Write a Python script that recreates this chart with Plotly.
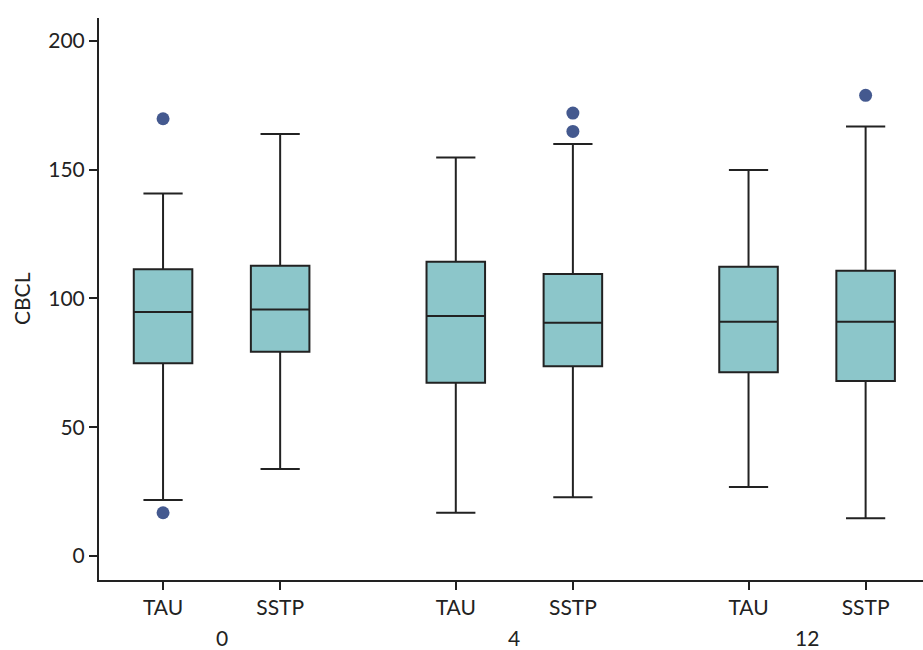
import plotly.graph_objects as go

# Assessment weeks and treatment arms
weeks = ["0", "4", "12"]
arms = ["TAU", "SSTP"]

# Box summary statistics per week/arm, in order: 0-TAU, 0-SSTP, 4-TAU, 4-SSTP, 12-TAU, 12-SSTP
lower_fence = [21.7, 33.8, 16.8, 22.8, 26.8, 14.7]
q1 = [74.8, 79.3, 67.2, 73.7, 71.3, 67.9]
median = [94.7, 95.7, 93.2, 90.5, 90.9, 90.9]
q3 = [111.3, 112.7, 114.2, 109.5, 112.3, 110.7]
upper_fence = [140.7, 163.8, 154.7, 159.9, 149.8, 166.7]

# Outlying observations per box
outliers = [[169.7, 16.8], [], [], [171.9, 164.8], [], [178.8]]

y_ticks = [0, 50, 100, 150, 200]

FONT = "Lato, 'Open Sans', sans-serif"
FS = 21
INK = "#222222"
FILL = "#8cc6ca"
DOT = "#44598f"

# Numeric slot for each box: arms sit 1 apart, weeks are separated by an extra half slot
positions = []
labels = []
group_centers = []
for gi, wk in enumerate(weeks):
    base = gi * (len(arms) + 0.5)
    slots = [base + ai for ai in range(len(arms))]
    positions.extend(slots)
    labels.extend(arms)
    group_centers.append(sum(slots) / len(slots))

fig = go.Figure()

for i, pos in enumerate(positions):
    fig.add_trace(go.Box(
        x=[pos],
        q1=[q1[i]], median=[median[i]], q3=[q3[i]],
        lowerfence=[lower_fence[i]], upperfence=[upper_fence[i]],
        width=0.5, whiskerwidth=0.67,
        fillcolor=FILL,
        line=dict(color=INK, width=2),
        boxpoints=False,
        showlegend=False,
        hoverinfo="skip",
    ))
    if outliers[i]:
        fig.add_trace(go.Scatter(
            x=[pos] * len(outliers[i]), y=outliers[i],
            mode="markers",
            marker=dict(color=DOT, size=13),
            showlegend=False,
            hoverinfo="skip",
        ))

# Week labels underneath the arm labels
for wk, cx in zip(weeks, group_centers):
    fig.add_annotation(
        x=cx, y=0, xref="x", yref="paper",
        text=wk, showarrow=False,
        yanchor="middle", yshift=-57,
        font=dict(family=FONT, size=FS, color=INK),
    )

# Vertical axis title
fig.add_annotation(
    x=0, y=0.5, xref="paper", yref="paper",
    text="CBCL", textangle=-90, showarrow=False,
    xanchor="center", yanchor="middle", xshift=-78,
    font=dict(family=FONT, size=FS, color=INK),
)

fig.update_layout(
    width=923, height=650,
    margin=dict(l=99, r=0, t=18, b=70),
    paper_bgcolor="white", plot_bgcolor="white",
    font=dict(family=FONT, size=FS, color=INK),
    xaxis=dict(
        range=[-0.547, 6.49],
        tickmode="array", tickvals=positions, ticktext=labels,
        showgrid=False, zeroline=False,
        showline=True, linecolor=INK, linewidth=2,
        ticks="outside", ticklen=8, tickwidth=2, tickcolor=INK,
        tickfont=dict(family=FONT, size=FS, color=INK),
    ),
    yaxis=dict(
        range=[-9.3, 208.8],
        tickmode="array", tickvals=y_ticks,
        showgrid=False, zeroline=False,
        showline=True, linecolor=INK, linewidth=2,
        ticks="outside", ticklen=8, tickwidth=2, tickcolor=INK,
        tickfont=dict(family=FONT, size=FS, color=INK),
    ),
)

fig.write_html("out.html")
